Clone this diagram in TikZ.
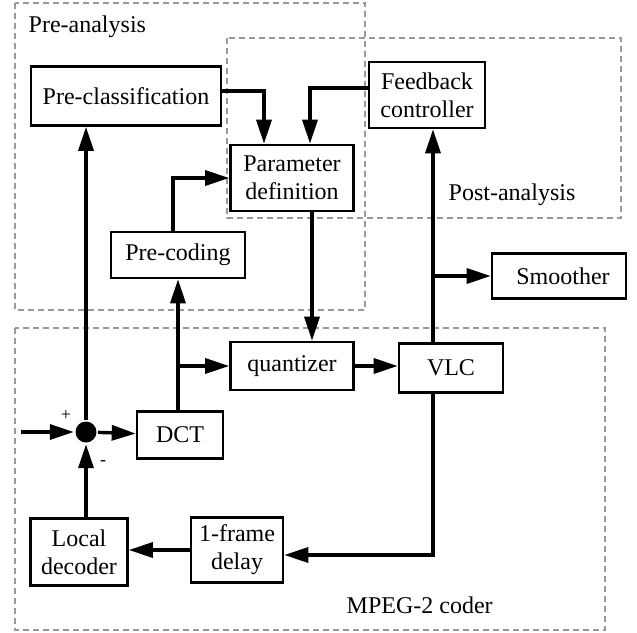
\documentclass[tikz,border=0pt]{standalone}
\usepackage{fontspec}
\setmainfont{Liberation Serif}
\usetikzlibrary{arrows.meta}

\begin{document}
\begin{tikzpicture}[x=0.5pt,y=-0.5pt,>={Triangle[length=12pt,width=7.5pt]},line width=1.7pt,
    block/.style={draw,line width=1.3pt,align=center,inner sep=0pt,
                  font=\fontsize{12}{14}\selectfont},
    region/.style={draw=gray!80,densely dashed,line width=0.8pt},
    tag/.style={anchor=west,inner sep=0pt,font=\fontsize{12}{14}\selectfont},
    sign/.style={inner sep=0pt,font=\fontsize{9}{10}\selectfont}]
  \useasboundingbox (0,0) rectangle (637,632);

  % dashed regions
  \draw[region] (15,3)   rectangle (365,310);
  \draw[region] (227,38) rectangle (621,218);
  \draw[region] (15,328) rectangle (605,630);
  \node[tag] (prelab)  at (27,27)   {Pre-analysis};
  \node[tag] (postlab) at (447,195) {Post-analysis};
  \node[tag] (mpeglab) at (345,605) {MPEG-2 coder};

  \node[block,minimum width=95pt,minimum height=29.5pt] (precls) at (126,96)  {Pre-classification};
  \node[block,minimum width=61.5pt,minimum height=33pt] (param)  at (292,178) {Parameter\\definition};
  \node[block,minimum width=58pt,minimum height=33pt]   (fbc)    at (427,95)  {Feedback\\controller};
  \node[block,minimum width=67pt,minimum height=23pt]   (precod) at (178,255) {Pre-coding};
  \node[block,minimum width=67pt,minimum height=22.5pt] (smooth) at (559,276) {\hspace{4pt}Smoother};
  \node[block,minimum width=61.5pt,minimum height=24pt] (quant)  at (292,366) {quantizer};
  \node[block,minimum width=52pt,minimum height=24.5pt] (vlc)    at (451,368) {\raisebox{-2pt}{VLC}};
  \node[block,minimum width=43pt,minimum height=23.5pt] (dct)    at (180,435) {DCT};
  \node[block,minimum width=48.5pt,minimum height=33.5pt] (locdec) at (79,552) {Local\\decoder};
  \node[block,minimum width=46pt,minimum height=32.5pt] (delay)  at (237,550) {1-frame\\delay};
  \node[circle,fill,inner sep=0pt,minimum size=10.5pt] (sum) at (86,432) {};
  \node[sign] (plus)  at (66,415)  {+};
  \node[sign] (minus) at (103,463) {-};

  \coordinate (in)   at (21,432);
  \coordinate (vtop) at ([xshift=-9pt]vlc.north);
  \coordinate (vbot) at ([xshift=-9pt]vlc.south);

  \path[->]
        (in)   edge (sum)
        (sum)  edge (dct)
               edge (sum |- precls.south)
        (locdec.north -| sum) edge (sum)
        (precod |- dct.north) edge (precod.south)
        (precod |- quant) edge (quant.west)
        ([xshift=10pt]param.south) edge ([xshift=10pt]quant.north)
        (quant.east) edge (vlc.west |- quant.east)
        (vtop) edge (vtop |- fbc.south)
        (vtop |- smooth.west) edge (smooth.west)
        (delay.west) edge (locdec.east |- delay.west);

  \draw[->] ([xshift=-2.5pt]precod.north) |- (param.west);
  \draw[->] ([yshift=2.5pt]precls.east) -| ([xshift=-14pt]param.north);
  \draw[->] ([yshift=3.5pt]fbc.west) -| ([xshift=9pt]param.north);
  \draw[->] (vbot) |- ([yshift=-2.5pt]delay.east);
\end{tikzpicture}
\end{document}
